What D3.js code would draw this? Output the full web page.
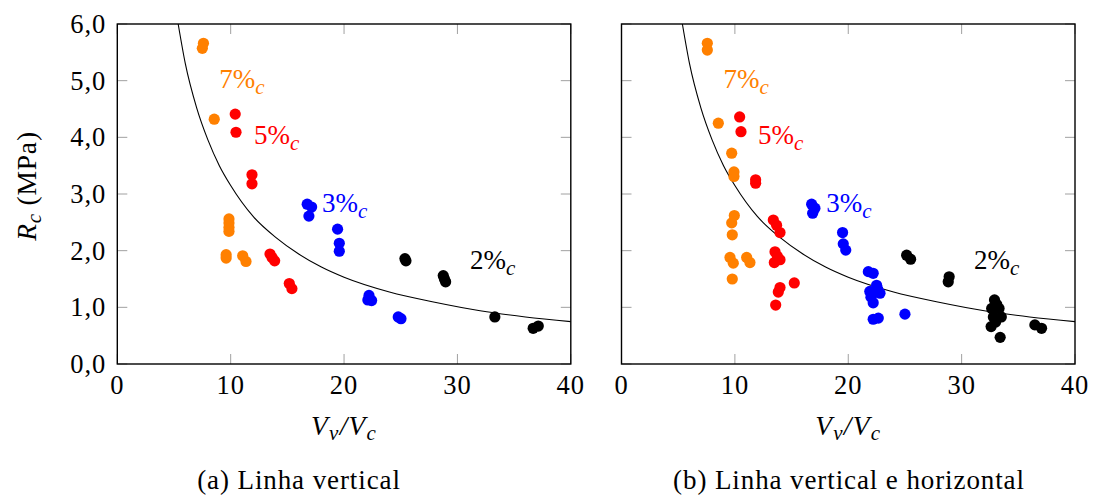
<!DOCTYPE html>
<html>
<head>
<meta charset="utf-8">
<script src="https://cdn.jsdelivr.net/npm/d3@7"></script>
<style>
  html, body { margin: 0; padding: 0; background: #fff; }
  svg { display: block; font-family: "Liberation Serif", "DejaVu Serif", serif; }
</style>
</head>
<body>
<svg id="chart" width="1097" height="495"></svg>
<script>
// ---------- data ----------
const xTicks = [0, 10, 20, 30, 40];
const yTicks = [0, 1, 2, 3, 4, 5, 6];
const yTickLabels = ["0,0", "1,0", "2,0", "3,0", "4,0", "5,0", "6,0"];
const seriesNames = ["7%", "5%", "3%", "2%"];
const seriesColors = ["#ff8000", "#ff0000", "#0000ff", "#000000"];

// Fitted curve
const curveX = [5.37, 6, 7, 8, 9, 10, 12, 14, 16, 18, 20, 24, 28, 32, 36, 40];
const curveY = [6.0, 5.3, 4.52, 3.95, 3.5, 3.15, 2.6, 2.23, 1.94, 1.71, 1.53, 1.27, 1.09, 0.94, 0.83, 0.747];

// Panel (a) Linha vertical
const a7x = [7.6, 7.5, 8.55, 9.85, 9.85, 9.85, 9.85, 9.6, 9.6, 11.06, 11.35];
const a7y = [5.66, 5.57, 4.32, 2.56, 2.49, 2.41, 2.34, 1.93, 1.87, 1.91, 1.81];
const a5x = [10.4, 10.47, 11.88, 11.88, 13.47, 13.65, 13.88, 15.17, 15.4];
const a5y = [4.41, 4.09, 3.34, 3.18, 1.94, 1.88, 1.82, 1.42, 1.33];
const a3x = [16.75, 17.14, 16.9, 19.43, 19.58, 19.58, 22.2, 22.43, 22.1, 24.78, 25.02];
const a3y = [2.82, 2.77, 2.61, 2.38, 2.13, 1.99, 1.21, 1.12, 1.13, 0.83, 0.80];
const a2x = [25.37, 25.46, 28.75, 28.85, 28.96, 33.3, 36.68, 37.13];
const a2y = [1.86, 1.82, 1.56, 1.50, 1.45, 0.83, 0.63, 0.67];

// Panel (b) Linha vertical e horizontal
const b7x = [7.57, 7.57, 8.54, 9.72, 9.92, 9.92, 9.95, 9.72, 9.77, 9.57, 9.86, 11.04, 11.33, 9.77];
const b7y = [5.66, 5.54, 4.25, 3.72, 3.39, 3.31, 2.62, 2.49, 2.28, 1.88, 1.78, 1.88, 1.79, 1.50];
const b5x = [10.42, 10.54, 11.83, 11.83, 13.39, 13.68, 13.98, 13.54, 13.75, 13.98, 13.48, 15.24, 13.98, 13.83, 13.6];
const b5y = [4.36, 4.10, 3.25, 3.19, 2.54, 2.45, 2.32, 1.98, 1.90, 1.84, 1.79, 1.43, 1.35, 1.27, 1.04];
const b3x = [16.77, 17.06, 16.86, 19.5, 19.56, 19.78, 21.77, 22.2, 22.5, 22.6, 21.9, 22.8, 22.0, 22.2, 22.2, 22.65, 25.0];
const b3y = [2.82, 2.75, 2.66, 2.32, 2.12, 2.01, 1.63, 1.60, 1.39, 1.32, 1.28, 1.25, 1.18, 1.08, 0.79, 0.81, 0.88];
const b2x = [25.15, 25.5, 28.9, 28.82, 32.9, 33.1, 33.3, 32.65, 33.5, 32.8, 33.0, 32.6, 33.4, 36.46, 37.05];
const b2y = [1.92, 1.85, 1.54, 1.45, 1.13, 1.05, 0.98, 0.98, 0.83, 0.83, 0.74, 0.66, 0.47, 0.69, 0.63];

// Series label anchors (data coordinates)
const labelX = [9.0, 12.05, 18.05, 31.1];
const labelY = [4.87, 3.89, 2.69, 1.67];

const captions = ["(a) Linha vertical", "(b) Linha vertical e horizontal"];

// ---------- drawing ----------
const svg = d3.select("#chart");
svg.append("rect").attr("width", 1097).attr("height", 495).attr("fill", "#fff");

const yScale = d3.scaleLinear().domain([0, 6]).range([364, 24]);
const fontSize = 26.5;
const tickLen = 10;
const tickColor = "#a0a0a0";

const panels = [
  { x0: 117.3, x1: 570.8, series: [[a7x, a7y], [a5x, a5y], [a3x, a3y], [a2x, a2y]], caption: captions[0], captionX: 299, yLabels: true },
  { x0: 621.5, x1: 1075, series: [[b7x, b7y], [b5x, b5y], [b3x, b3y], [b2x, b2y]], caption: captions[1], captionX: 849, yLabels: false }
];

panels.forEach((p, pi) => {
  const xScale = d3.scaleLinear().domain([0, 40]).range([p.x0, p.x1]);
  const g = svg.append("g");
  const top = yScale(6), bottom = yScale(0);

  // ticks (inside, mirrored)
  const tg = g.append("g").attr("stroke", tickColor).attr("stroke-width", 1);
  xTicks.forEach(t => {
    const x = xScale(t);
    tg.append("line").attr("x1", x).attr("x2", x).attr("y1", bottom).attr("y2", bottom - tickLen);
    tg.append("line").attr("x1", x).attr("x2", x).attr("y1", top).attr("y2", top + tickLen);
  });
  yTicks.forEach(t => {
    const y = yScale(t);
    tg.append("line").attr("x1", p.x0).attr("x2", p.x0 + tickLen).attr("y1", y).attr("y2", y);
    tg.append("line").attr("x1", p.x1).attr("x2", p.x1 - tickLen).attr("y1", y).attr("y2", y);
  });

  // curve
  const line = d3.line()
    .x(d => xScale(d[0]))
    .y(d => yScale(d[1]))
    .curve(d3.curveMonotoneX);
  g.append("path")
    .datum(d3.zip(curveX, curveY))
    .attr("d", line)
    .attr("fill", "none")
    .attr("stroke", "#000")
    .attr("stroke-width", 1.1);

  // points
  p.series.forEach((s, si) => {
    g.append("g").selectAll("circle")
      .data(d3.zip(s[0], s[1]))
      .join("circle")
      .attr("cx", d => xScale(d[0]))
      .attr("cy", d => yScale(d[1]))
      .attr("r", 5.6)
      .attr("fill", seriesColors[si]);
  });

  // series labels
  seriesNames.forEach((name, i) => {
    const t = g.append("text")
      .attr("x", xScale(labelX[i]))
      .attr("y", yScale(labelY[i]))
      .attr("fill", seriesColors[i])
      .attr("font-size", 27);
    t.append("tspan").text(name);
    t.append("tspan").attr("font-style", "italic").attr("font-size", 21).attr("dy", 6).text("c");
  });

  // frame
  g.append("rect")
    .attr("x", p.x0).attr("y", top)
    .attr("width", p.x1 - p.x0).attr("height", bottom - top)
    .attr("fill", "none").attr("stroke", "#000").attr("stroke-width", 1.4);

  // x tick labels
  xTicks.forEach(t => {
    g.append("text")
      .attr("x", xScale(t)).attr("y", 394)
      .attr("text-anchor", "middle")
      .attr("font-size", fontSize)
      .attr("letter-spacing", 1)
      .text(t);
  });

  // y tick labels
  if (p.yLabels) {
    yTicks.forEach((t, i) => {
      g.append("text")
        .attr("x", p.x0 - 11).attr("y", yScale(t) + 9)
        .attr("text-anchor", "end")
        .attr("font-size", fontSize)
        .attr("letter-spacing", 1)
        .text(yTickLabels[i]);
    });
    const yl = g.append("text")
      .attr("transform", `translate(36,186) rotate(-90)`)
      .attr("text-anchor", "middle")
      .attr("font-size", 27.5)
      .attr("letter-spacing", 0.8);
    yl.append("tspan").attr("font-style", "italic").text("R");
    yl.append("tspan").attr("font-style", "italic").attr("font-size", 21).attr("dy", 5).text("c");
    yl.append("tspan").attr("dy", -5).text(" (MPa)");
  }

  // x axis label
  const xl = g.append("text")
    .attr("x", (p.x0 + p.x1) / 2).attr("y", 435)
    .attr("text-anchor", "middle")
    .attr("font-size", 27.5)
    .attr("letter-spacing", 1.2)
    .attr("font-style", "italic");
  xl.append("tspan").text("V");
  xl.append("tspan").attr("font-size", 21).attr("dy", 5).text("v");
  xl.append("tspan").attr("dy", -5).text("/V");
  xl.append("tspan").attr("font-size", 21).attr("dy", 5).text("c");

  // caption
  g.append("text")
    .attr("x", p.captionX).attr("y", 489)
    .attr("text-anchor", "middle")
    .attr("font-size", 27)
    .attr("letter-spacing", 0.9)
    .text(p.caption);
});
</script>
</body>
</html>
